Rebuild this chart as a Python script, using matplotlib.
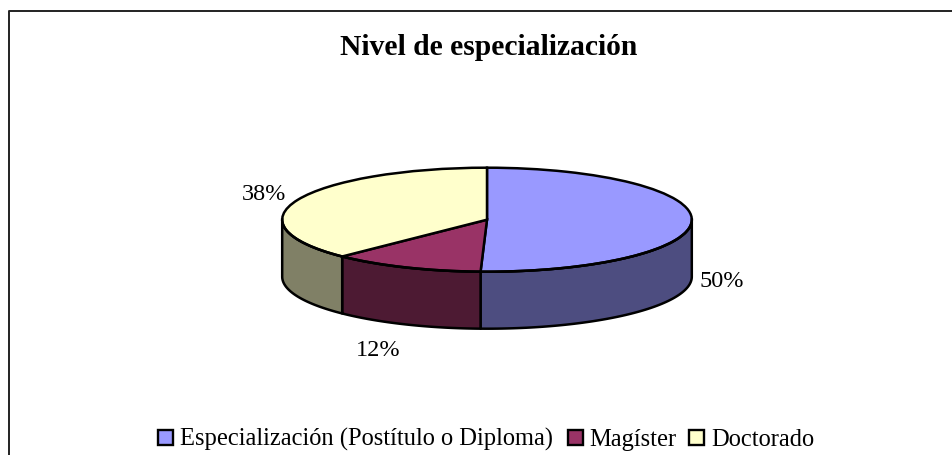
import numpy as np
import matplotlib
matplotlib.use("Agg")
import matplotlib.pyplot as plt
from matplotlib.patches import Rectangle, Polygon

plt.rcParams['font.family'] = ['Liberation Serif', 'DejaVu Serif']

# Data
categories = ["Especialización (Postítulo o Diploma)", "Magíster", "Doctorado"]
values = [50.5, 12.0, 37.5]
pct_labels = ["50%", "12%", "38%"]
top_colors = ["#9999FF", "#993366", "#FFFFCC"]
side_colors = ["#4D4D80", "#4D1A33", "#808066"]

W, H = 952, 456
cx, cy = 487, 220.7     # centre of the top face, pixels
rx, ry = 204.8, 52      # ellipse radii
depth = 57
edge_lw = 1.8

fig = plt.figure(figsize=(W / 100, H / 100), dpi=100)
ax = fig.add_axes([0, 0, 1, 1])

# pie in unit circle, axes limits squash it into the ellipse
ax.pie(values, colors=top_colors, startangle=90, counterclock=False, radius=1,
       wedgeprops=dict(edgecolor="black", linewidth=edge_lw), frame=True)
ax.set_aspect('auto')
ax.set_xlim(-cx / rx, (W - cx) / rx)
ax.set_ylim((cy - H) / ry, cy / ry)
ax.axis('off')

# side walls, only the front half of the ellipse shows
d = depth / ry
edges = 90 - np.cumsum([0] + values) * 3.6
for i in range(len(values)):
    lo, hi = max(edges[i + 1], -180), min(edges[i], 0)
    if lo >= hi:
        continue
    t = np.radians(np.linspace(hi, lo, 80))
    x, y = np.cos(t), np.sin(t)
    pts = np.r_[np.c_[x, y], np.c_[x[::-1], y[::-1] - d]]
    ax.add_patch(Polygon(pts, closed=True, facecolor=side_colors[i], edgecolor="black",
                         linewidth=edge_lw, joinstyle='round', zorder=0.5))
# redraw the front rim over the walls
t = np.radians(np.linspace(0, -180, 200))
ax.plot(np.cos(t), np.sin(t), color="black", lw=edge_lw, zorder=3)


def px(x, y):
    return (x - cx) / rx, (cy - y) / ry


# percent labels
ax.text(*px(722, 287), pct_labels[0], fontsize=17.5, ha='center', va='baseline', color="black")
ax.text(*px(378.5, 356.5), pct_labels[1], fontsize=17.5, ha='center', va='baseline', color="black")
ax.text(*px(264, 199.5), pct_labels[2], fontsize=17.5, ha='center', va='baseline', color="black")

# title
ax.text(*px(488.5, 55), "Nivel de especialización", fontsize=21.3, fontweight='bold',
        ha='center', va='baseline', color="black")

# legend drawn by hand so swatches sit like the original
legend_swatch = [158, 568, 689]
legend_text = [180, 589, 711]
for sx, tx, name, col in zip(legend_swatch, legend_text, categories, top_colors):
    fig.add_artist(Rectangle((sx / W, 1 - 446 / H), 15 / W, 15 / H, transform=fig.transFigure,
                             facecolor=col, edgecolor="black", linewidth=1.7))
    fig.text(tx / W, 1 - 446 / H, name, fontsize=17.65, ha='left', va='baseline', color="black")

# outer frame, cut off by the image on the right and at the bottom
fig.add_artist(plt.Line2D([8.5 / W, 8.5 / W, 1], [0, 1 - 12 / H, 1 - 12 / H],
                          color="#222222", lw=1.4))

fig.savefig("out.png", dpi=100)
